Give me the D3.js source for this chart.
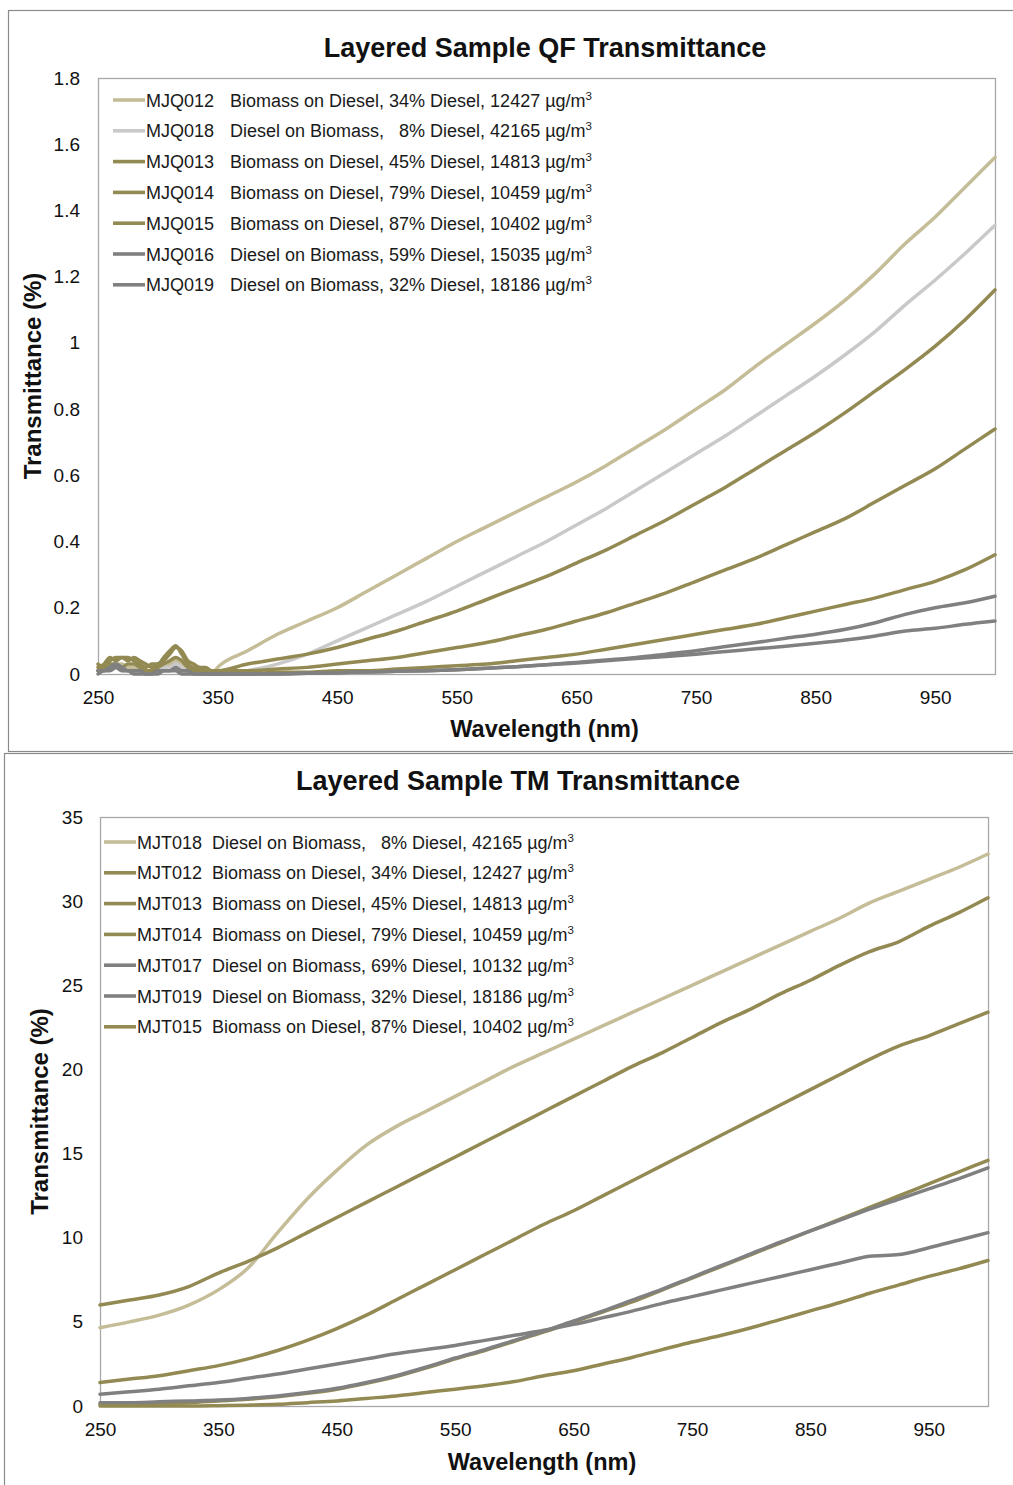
<!DOCTYPE html>
<html>
<head>
<meta charset="utf-8">
<script src="https://cdn.jsdelivr.net/npm/d3@7"></script>
<style>
  html, body { margin: 0; padding: 0; background: #fff; }
  svg { display: block; font-family: "Liberation Sans", Arial, sans-serif; }
</style>
</head>
<body>
<svg id="chart" width="1013" height="1485"></svg>
<script>
// ---- Quartz filter (QF) spectra ----
const qfWavelengths = [250,255,260,265,270,275,280,285,290,295,300,305,310,315,320,325,330,335,340,345,350,
  375,400,425,450,475,500,525,550,575,600,625,650,675,700,725,750,775,800,825,850,875,900,925,950,975,1000];

const MJQ012 = [0.01,0.02,0.02,0.03,0.03,0.02,0.02,0.01,0.01,0.01,0.02,0.02,0.03,0.04,0.03,0.02,0.01,0.01,0.0,0.0,0.02,
  0.07,0.12,0.16,0.2,0.25,0.3,0.35,0.4,0.445,0.49,0.535,0.58,0.63,0.685,0.74,0.8,0.86,0.93,0.995,1.06,1.13,1.21,1.3,1.38,1.47,1.56];
const MJQ018 = [0.01,0.01,0.02,0.02,0.01,0.01,0.01,0.01,0.0,0.01,0.01,0.02,0.02,0.03,0.02,0.01,0.01,0.0,0.0,0.0,0.0,
  0.01,0.03,0.06,0.1,0.14,0.18,0.22,0.265,0.31,0.355,0.4,0.45,0.5,0.555,0.61,0.665,0.72,0.78,0.84,0.9,0.965,1.035,1.115,1.19,1.27,1.355];
const MJQ013 = [0.03,0.02,0.04,0.05,0.05,0.04,0.05,0.04,0.03,0.02,0.03,0.04,0.06,0.08,0.07,0.04,0.03,0.02,0.02,0.01,0.01,
  0.03,0.045,0.06,0.08,0.105,0.13,0.16,0.19,0.225,0.26,0.295,0.335,0.375,0.42,0.465,0.515,0.565,0.62,0.675,0.73,0.79,0.855,0.92,0.99,1.07,1.16];
const MJQ014 = [0.02,0.03,0.05,0.04,0.05,0.05,0.04,0.03,0.02,0.03,0.03,0.05,0.07,0.085,0.06,0.03,0.02,0.02,0.01,0.0,0.01,
  0.01,0.015,0.02,0.03,0.04,0.05,0.065,0.08,0.095,0.115,0.135,0.16,0.185,0.215,0.245,0.28,0.315,0.35,0.39,0.43,0.47,0.52,0.57,0.62,0.68,0.74];
const MJQ015 = [0.01,0.02,0.03,0.03,0.02,0.03,0.03,0.02,0.01,0.01,0.02,0.03,0.04,0.05,0.04,0.02,0.01,0.01,0.0,0.0,0.0,
  0.0,0.005,0.005,0.01,0.01,0.015,0.02,0.025,0.03,0.04,0.05,0.06,0.075,0.09,0.105,0.12,0.135,0.15,0.17,0.19,0.21,0.23,0.255,0.28,0.315,0.36];
const MJQ016 = [0.01,0.01,0.02,0.03,0.02,0.01,0.01,0.01,0.0,0.0,0.01,0.01,0.01,0.02,0.01,0.01,0.0,0.0,0.0,0.0,0.0,
  0.0,0.0,0.002,0.004,0.006,0.008,0.01,0.013,0.017,0.022,0.028,0.035,0.042,0.05,0.06,0.07,0.083,0.095,0.108,0.12,0.135,0.155,0.18,0.2,0.215,0.235];
const MJQ019 = [0.0,0.01,0.01,0.02,0.01,0.01,0.0,0.0,0.0,0.0,0.0,0.01,0.01,0.01,0.0,0.0,0.0,0.0,0.0,0.0,0.0,
  0.0,0.0,0.002,0.004,0.006,0.008,0.01,0.013,0.017,0.022,0.028,0.033,0.04,0.047,0.053,0.06,0.068,0.076,0.084,0.093,0.103,0.115,0.13,0.138,0.15,0.16];

// ---- Teflon membrane (TM) spectra ----
const tmWavelengths = [250,275,300,325,350,375,400,425,450,475,500,525,550,575,600,625,650,675,700,725,750,775,800,825,850,875,900,925,950,975,1000];

const MJT018 = [4.65,5.0,5.4,6.0,6.9,8.2,10.3,12.3,14.0,15.5,16.6,17.5,18.4,19.3,20.2,21.0,21.8,22.6,23.4,24.2,25.0,25.8,26.6,27.4,28.2,29.0,29.9,30.6,31.3,32.0,32.8];
const MJT012 = [6.0,6.3,6.6,7.1,7.9,8.6,9.4,10.3,11.2,12.1,13.0,13.9,14.8,15.7,16.6,17.5,18.4,19.3,20.2,21.0,21.9,22.8,23.6,24.5,25.3,26.2,27.0,27.6,28.5,29.3,30.2];
const MJT013 = [1.4,1.6,1.8,2.1,2.4,2.8,3.3,3.9,4.6,5.4,6.3,7.2,8.1,9.0,9.9,10.8,11.6,12.5,13.4,14.3,15.2,16.1,17.0,17.9,18.8,19.7,20.6,21.4,22.0,22.7,23.4];
const MJT014 = [0.1,0.1,0.15,0.2,0.3,0.4,0.55,0.75,1.0,1.35,1.75,2.25,2.8,3.3,3.85,4.4,5.0,5.6,6.2,6.9,7.6,8.3,9.0,9.7,10.4,11.1,11.8,12.5,13.2,13.9,14.6];
const MJT017 = [0.2,0.2,0.25,0.3,0.35,0.45,0.6,0.8,1.05,1.4,1.8,2.3,2.85,3.35,3.9,4.45,5.05,5.65,6.3,6.95,7.65,8.35,9.05,9.75,10.4,11.05,11.7,12.3,12.9,13.5,14.15];
const MJT019 = [0.7,0.85,1.0,1.2,1.4,1.65,1.9,2.2,2.5,2.8,3.1,3.35,3.6,3.9,4.2,4.5,4.85,5.25,5.65,6.1,6.5,6.9,7.3,7.7,8.1,8.5,8.9,9.0,9.4,9.85,10.3];
const MJT015 = [0,0,0,0,0.02,0.05,0.1,0.2,0.3,0.45,0.6,0.8,1.0,1.2,1.45,1.8,2.1,2.5,2.9,3.35,3.8,4.2,4.65,5.15,5.65,6.15,6.7,7.2,7.7,8.15,8.65];

// ---- Axis ticks ----
const xTicks = [250,350,450,550,650,750,850,950];
const qfYTicks = [0,0.2,0.4,0.6,0.8,1,1.2,1.4,1.6,1.8];
const tmYTicks = [0,5,10,15,20,25,30,35];

// ---- Legend labels ----
const qfCodes = ["MJQ012","MJQ018","MJQ013","MJQ014","MJQ015","MJQ016","MJQ019"];
const qfLabels = [
  "Biomass on Diesel, 34% Diesel, 12427 µg/m",
  "Diesel on Biomass,\u00A0\u00A0\u00A08% Diesel, 42165 µg/m",
  "Biomass on Diesel, 45% Diesel, 14813 µg/m",
  "Biomass on Diesel, 79% Diesel, 10459 µg/m",
  "Biomass on Diesel, 87% Diesel, 10402 µg/m",
  "Diesel on Biomass, 59% Diesel, 15035 µg/m",
  "Diesel on Biomass, 32% Diesel, 18186 µg/m"
];
const tmCodes = ["MJT018","MJT012","MJT013","MJT014","MJT017","MJT019","MJT015"];
const tmLabels = [
  "Diesel on Biomass,\u00A0\u00A0\u00A08% Diesel, 42165 µg/m",
  "Biomass on Diesel, 34% Diesel, 12427 µg/m",
  "Biomass on Diesel, 45% Diesel, 14813 µg/m",
  "Biomass on Diesel, 79% Diesel, 10459 µg/m",
  "Diesel on Biomass, 69% Diesel, 10132 µg/m",
  "Diesel on Biomass, 32% Diesel, 18186 µg/m",
  "Biomass on Diesel, 87% Diesel, 10402 µg/m"
];

// ---- Palette ----
const TAN = "#c4bd97", SILVER = "#c9c9c9", OLIVE = "#938a53", GREY = "#808080";

const qfSeries = [
  { code: qfCodes[0], label: qfLabels[0], values: MJQ012, color: TAN },
  { code: qfCodes[1], label: qfLabels[1], values: MJQ018, color: SILVER },
  { code: qfCodes[2], label: qfLabels[2], values: MJQ013, color: OLIVE },
  { code: qfCodes[3], label: qfLabels[3], values: MJQ014, color: OLIVE },
  { code: qfCodes[4], label: qfLabels[4], values: MJQ015, color: OLIVE },
  { code: qfCodes[5], label: qfLabels[5], values: MJQ016, color: GREY },
  { code: qfCodes[6], label: qfLabels[6], values: MJQ019, color: GREY }
];
const tmSeries = [
  { code: tmCodes[0], label: tmLabels[0], values: MJT018, color: TAN },
  { code: tmCodes[1], label: tmLabels[1], values: MJT012, color: OLIVE },
  { code: tmCodes[2], label: tmLabels[2], values: MJT013, color: OLIVE },
  { code: tmCodes[3], label: tmLabels[3], values: MJT014, color: OLIVE },
  { code: tmCodes[4], label: tmLabels[4], values: MJT017, color: GREY },
  { code: tmCodes[5], label: tmLabels[5], values: MJT019, color: GREY },
  { code: tmCodes[6], label: tmLabels[6], values: MJT015, color: OLIVE }
];

const svg = d3.select("#chart");

// panel frames
svg.append("rect").attr("x", 8.5).attr("y", 10.5).attr("width", 1020).attr("height", 741)
  .attr("fill", "none").attr("stroke", "#8a8a8a").attr("stroke-width", 1.2);
svg.append("rect").attr("x", 4.5).attr("y", 753.5).attr("width", 1020).attr("height", 760)
  .attr("fill", "none").attr("stroke", "#8a8a8a").attr("stroke-width", 1.2);

function drawPanel(cfg) {
  const g = svg.append("g");
  const x = d3.scaleLinear().domain([250, 1000]).range([cfg.left, cfg.right]);
  const y = d3.scaleLinear().domain([0, cfg.yMax]).range([cfg.bottom, cfg.top]);

  // plot area border
  g.append("rect")
    .attr("x", cfg.left + 0.5).attr("y", cfg.top + 0.5)
    .attr("width", cfg.right - cfg.left).attr("height", cfg.bottom - cfg.top)
    .attr("fill", "none").attr("stroke", "#a8a8a8").attr("stroke-width", 1.3);

  // axes
  const xAxis = g.append("g").attr("transform", `translate(0,${cfg.bottom})`)
    .call(d3.axisBottom(x).tickValues(xTicks).tickSize(0).tickPadding(cfg.xPad).tickFormat(d3.format("d")));
  const yAxis = g.append("g").attr("transform", `translate(${cfg.left},0)`)
    .call(d3.axisLeft(y).tickValues(cfg.yTicks).tickSize(0).tickPadding(cfg.yPad)
      .tickFormat(d => String(+d.toFixed(1))));
  [xAxis, yAxis].forEach(a => {
    a.select(".domain").remove();
    a.selectAll("text").attr("fill", "#111").style("font-size", "19px")
      .style("font-family", '"Liberation Sans", Arial, sans-serif');
  });

  // spectra
  const line = d3.line()
    .x((d, i) => x(cfg.wavelengths[i]))
    .y(d => y(d))
    .curve(d3.curveMonotoneX);
  g.append("g").selectAll("path").data(cfg.series).join("path")
    .attr("d", s => line(s.values))
    .attr("fill", "none")
    .attr("stroke", s => s.color)
    .attr("stroke-width", 3.5)
    .attr("stroke-linejoin", "round")
    .attr("stroke-linecap", "round");

  // title and axis titles
  g.append("text").attr("x", cfg.titleX).attr("y", cfg.titleY)
    .attr("text-anchor", "middle").attr("font-weight", "bold").attr("font-size", 27)
    .attr("fill", "#111").text(cfg.title);
  g.append("text").attr("x", (cfg.left + cfg.right) / 2 - 2).attr("y", cfg.xTitleY)
    .attr("text-anchor", "middle").attr("font-weight", "bold").attr("font-size", 23.5)
    .attr("fill", "#111").text("Wavelength (nm)");
  g.append("text")
    .attr("transform", `translate(${cfg.yTitleX},${(cfg.top + cfg.bottom) / 2}) rotate(-90)`)
    .attr("text-anchor", "middle").attr("font-weight", "bold").attr("font-size", 24)
    .attr("fill", "#111").text("Transmittance (%)");

  // legend
  const leg = g.append("g");
  const rows = leg.selectAll("g").data(cfg.series).join("g")
    .attr("transform", (s, i) => `translate(0,${cfg.legTop + i * 30.8})`);
  rows.append("line")
    .attr("x1", cfg.legX).attr("x2", cfg.legX + 32).attr("y1", 0).attr("y2", 0)
    .attr("stroke", s => s.color).attr("stroke-width", 3.6);
  rows.append("text").attr("x", cfg.legX + 33).attr("y", 6.5)
    .attr("font-size", 18).attr("fill", "#1a1a1a").text(s => s.code);
  const desc = rows.append("text").attr("x", cfg.descX).attr("y", 6.5)
    .attr("font-size", 18).attr("fill", "#1a1a1a");
  desc.append("tspan").text(s => s.label);
  desc.append("tspan").attr("font-size", 11.5).attr("dy", -7).text("3");
}

drawPanel({
  title: "Layered Sample QF Transmittance", titleX: 545, titleY: 57,
  left: 98, right: 995, top: 78, bottom: 674, yMax: 1.8, yTicks: qfYTicks,
  wavelengths: qfWavelengths, series: qfSeries,
  xPad: 17, yPad: 18, xTitleY: 737, yTitleX: 41,
  legX: 113, legTop: 100, descX: 230
});

drawPanel({
  title: "Layered Sample TM Transmittance", titleX: 518, titleY: 790,
  left: 100, right: 988, top: 817, bottom: 1406, yMax: 35, yTicks: tmYTicks,
  wavelengths: tmWavelengths, series: tmSeries,
  xPad: 17, yPad: 17, xTitleY: 1470, yTitleX: 48,
  legX: 104, legTop: 842, descX: 212
});
</script>
</body>
</html>
